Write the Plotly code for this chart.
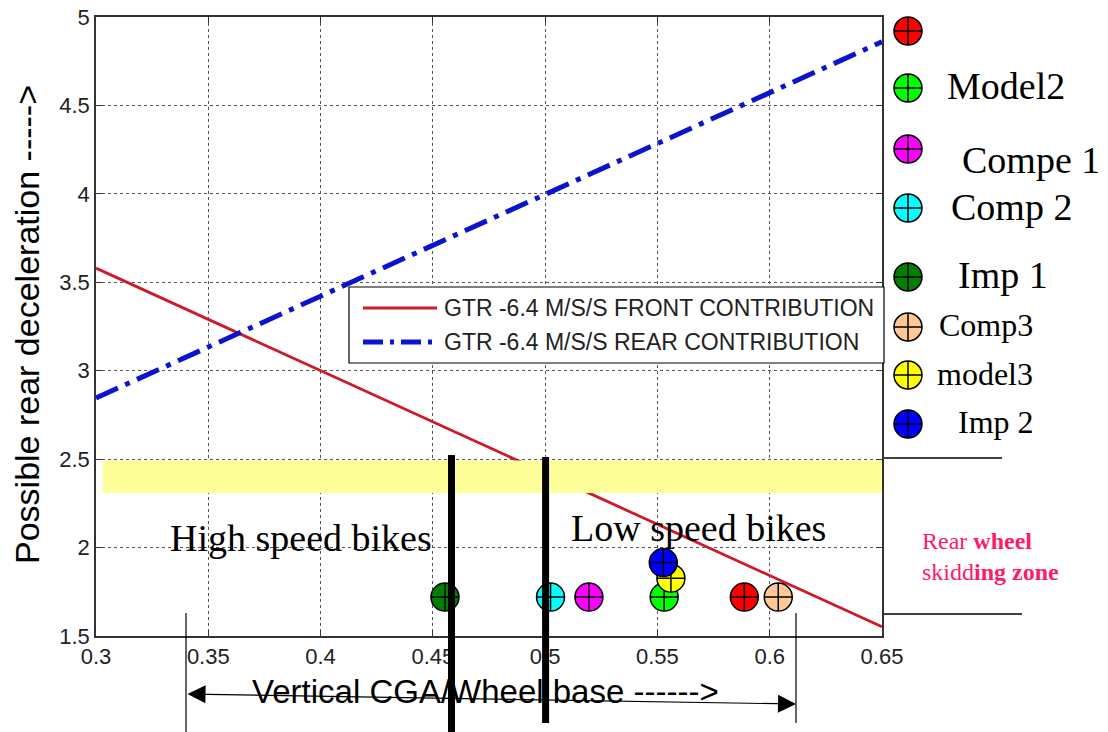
import plotly.graph_objects as go

# ---------------- data ----------------
x_ratio = [0.30, 0.65]
front_contribution = [3.58, 1.552]
rear_contribution = [2.846, 4.86]
line_names = ["GTR -6.4 M/S/S FRONT CONTRIBUTION", "GTR -6.4 M/S/S REAR CONTRIBUTION"]

bike_names = ["", "Model2", "Compe 1", "Comp 2", "Imp 1", "Comp3", "model3", "Imp 2"]
bike_x = [0.5887, 0.553, 0.5195, 0.5024, 0.4554, 0.6038, 0.556, 0.5526]
bike_y = [1.72, 1.72, 1.72, 1.72, 1.72, 1.72, 1.827, 1.915]
bike_colors = ["#FF0000", "#00FF00", "#FF00FF", "#00FFFF", "#007F00", "#FFC896", "#FFFF00", "#0000FF"]

x_ticks = [0.3, 0.35, 0.4, 0.45, 0.5, 0.55, 0.6, 0.65]
x_tick_text = ["0.3", "0.35", "0.4", "0.45", "0.5", "0.55", "0.6", "0.65"]
y_ticks = [1.5, 2, 2.5, 3, 3.5, 4, 4.5, 5]
y_tick_text = ["1.5", "2", "2.5", "3", "3.5", "4", "4.5", "5"]

skid_band = [2.309, 2.492]
skid_band_x = [0.303, 0.65]
speed_splits = [0.4583, 0.5002]

# ---------------- layout helpers ----------------
W, H = 1108, 732
ML, MR, MT, MB = 96, 0, 17, 96
PW = W - ML - MR
PH = H - MT - MB
MAIN_W = 786
XR = (0.30, 0.65)


def px_x(p):
    return (p - ML) / PW


def px_y(p):
    return (H - MB - p) / PH


def dx_paper(x):
    return (x - XR[0]) / (XR[1] - XR[0]) * MAIN_W / PW


fig = go.Figure()

fig.add_trace(go.Scatter(
    x=x_ratio, y=front_contribution, mode="lines", name=line_names[0],
    line=dict(color="#CC1A28", width=2.8), showlegend=False))
fig.add_trace(go.Scatter(
    x=x_ratio, y=rear_contribution, mode="lines", name=line_names[1],
    line=dict(color="#0A14CC", width=5, dash="24px,8px,5px,8px"), showlegend=False))

for n, xv, yv, c in zip(bike_names, bike_x, bike_y, bike_colors):
    fig.add_trace(go.Scatter(
        x=[xv], y=[yv], mode="markers", name=n, showlegend=False,
        marker=dict(symbol="circle-cross", size=28, color=c,
                    line=dict(color="black", width=1.5)), cliponaxis=False))

# right-hand marker key (pixel-space helper axes)
key_y = [31, 88, 149, 208, 277, 327, 375, 424]
key_label_y = [31, 86, 160, 207, 275, 325, 374, 422]
key_label_x = [945, 945, 960, 949, 956, 937, 935, 956]
key_label_size = [38, 38, 38, 38, 38, 32, 32, 32]
for n, c, ky in zip(bike_names, bike_colors, key_y):
    fig.add_trace(go.Scatter(
        x=[908], y=[ky], mode="markers", name=n, showlegend=False,
        xaxis="x2", yaxis="y2",
        marker=dict(symbol="circle-cross", size=28, color=c,
                    line=dict(color="black", width=1.5)), cliponaxis=False))

tick_font = dict(family="Liberation Sans, Arial", size=22, color="#222222")
fig.update_layout(
    width=W, height=H, autosize=False,
    margin=dict(l=ML, r=MR, t=MT, b=MB, pad=0, autoexpand=False),
    paper_bgcolor="white", plot_bgcolor="white",
    showlegend=False,
    xaxis=dict(domain=[0, MAIN_W / PW], range=list(XR), tickvals=x_ticks, ticktext=x_tick_text,
               showline=True, linecolor="#333333", linewidth=1.5, mirror="ticks",
               ticks="inside", ticklen=6, tickcolor="#333333", automargin=False,
               showgrid=True, gridcolor="#555555", griddash="dot", gridwidth=1,
               zeroline=False, tickfont=tick_font, anchor="y"),
    yaxis=dict(domain=[0, 1], range=[1.5, 5], tickvals=y_ticks, ticktext=y_tick_text,
               showline=True, linecolor="#333333", linewidth=1.5, mirror="ticks",
               ticks="inside", ticklen=6, tickcolor="#333333", automargin=False,
               showgrid=True, gridcolor="#555555", griddash="dot", gridwidth=1,
               zeroline=False, tickfont=tick_font, anchor="x"),
    xaxis2=dict(domain=[MAIN_W / PW, 1], range=[ML + MAIN_W, W], visible=False,
                anchor="y2", fixedrange=True, automargin=False),
    yaxis2=dict(domain=[0, 1], range=[H - MB, MT], visible=False, anchor="x2",
                fixedrange=True, automargin=False),
)

shapes = []
# yellow skidding band
shapes.append(dict(type="rect", xref="x", yref="y", x0=skid_band_x[0], x1=skid_band_x[1],
                   y0=skid_band[0], y1=skid_band[1], fillcolor="#FFFF99",
                   line=dict(width=0), layer="above"))
# thick black separators
for sx, top, bot in zip(speed_splits, [455, 457], [732, 723]):
    shapes.append(dict(type="line", xref="paper", yref="paper",
                       x0=dx_paper(sx), x1=dx_paper(sx), y0=px_y(top), y1=px_y(bot),
                       line=dict(color="black", width=7), layer="above"))
# thin vertical lines
for vx, top, bot in [(186, 613, 732), (796, 613, 723)]:
    shapes.append(dict(type="line", xref="paper", yref="paper",
                       x0=px_x(vx), x1=px_x(vx), y0=px_y(top), y1=px_y(bot),
                       line=dict(color="black", width=1.2), layer="above"))
# right horizontal lines
for hy, x1 in [(458, 1002), (614, 1022)]:
    shapes.append(dict(type="line", xref="paper", yref="paper",
                       x0=px_x(884), x1=px_x(x1), y0=px_y(hy), y1=px_y(hy),
                       line=dict(color="black", width=1.5), layer="above"))
# legend box
shapes.append(dict(type="rect", xref="paper", yref="paper",
                   x0=px_x(349), x1=px_x(884), y0=px_y(363), y1=px_y(287),
                   fillcolor="white", line=dict(color="black", width=1.2), layer="above"))
shapes.append(dict(type="line", xref="paper", yref="paper",
                   x0=px_x(363), x1=px_x(437), y0=px_y(308), y1=px_y(308),
                   line=dict(color="#CC1A28", width=3), layer="above"))
shapes.append(dict(type="line", xref="paper", yref="paper",
                   x0=px_x(363), x1=px_x(437), y0=px_y(342), y1=px_y(342),
                   line=dict(color="#0A14CC", width=5, dash="20px,7px,4px,7px"), layer="above"))
fig.update_layout(shapes=shapes)

ann = []
serif = "Liberation Serif, Times New Roman"
sans = "Liberation Sans, Arial"
# legend labels
for ly, txt in zip([308, 342], line_names):
    ann.append(dict(xref="paper", yref="paper", x=px_x(442), y=px_y(ly), text=txt,
                    showarrow=False, xanchor="left", yanchor="middle",
                    font=dict(family=sans, size=23, color="#222222")))
# key labels
for n, lx, ly, fs in zip(bike_names, key_label_x, key_label_y, key_label_size):
    if n:
        ann.append(dict(xref="paper", yref="paper", x=px_x(lx), y=px_y(ly), text=n,
                        showarrow=False, xanchor="left", yanchor="middle",
                        font=dict(family=serif, size=fs, color="black")))
# region labels
ann.append(dict(xref="paper", yref="paper", x=px_x(168), y=px_y(538), text="High speed bikes",
                showarrow=False, xanchor="left", yanchor="middle",
                font=dict(family=serif, size=38, color="black")))
ann.append(dict(xref="paper", yref="paper", x=px_x(569), y=px_y(528), text="Low speed bikes",
                showarrow=False, xanchor="left", yanchor="middle",
                font=dict(family=serif, size=38, color="black")))
ann.append(dict(xref="paper", yref="paper", x=px_x(920), y=px_y(556),
                text="Rear <b>wheel</b><br>skidd<b>ing zone</b>",
                showarrow=False, xanchor="left", yanchor="middle", align="left",
                font=dict(family=serif, size=24, color="#FF1A66")))
# axis titles
ann.append(dict(xref="paper", yref="paper", x=px_x(485), y=px_y(691),
                text="Vertical CGA/Wheel base ------>", showarrow=False,
                xanchor="center", yanchor="middle",
                font=dict(family=sans, size=33, color="black")))
ann.append(dict(xref="paper", yref="paper", x=px_x(27), y=px_y(325),
                text="Possible rear deceleration ----->", showarrow=False, textangle=-90,
                xanchor="center", yanchor="middle",
                font=dict(family=sans, size=34, color="black")))
# double arrow
ann.append(dict(xref="paper", yref="paper", x=px_x(796), y=px_y(704), text="",
                showarrow=True, ax=186 - 796, ay=694 - 704, axref="pixel", ayref="pixel",
                arrowside="end+start", arrowhead=2, startarrowhead=2,
                arrowsize=3, startarrowsize=3, arrowwidth=1.2, arrowcolor="black",
                standoff=0, startstandoff=0))
fig.update_layout(annotations=ann)

fig.write_html("out.html", config={"displayModeBar": False, "responsive": False},
               post_script="document.body.style.margin='0';document.body.style.overflow='hidden';")
